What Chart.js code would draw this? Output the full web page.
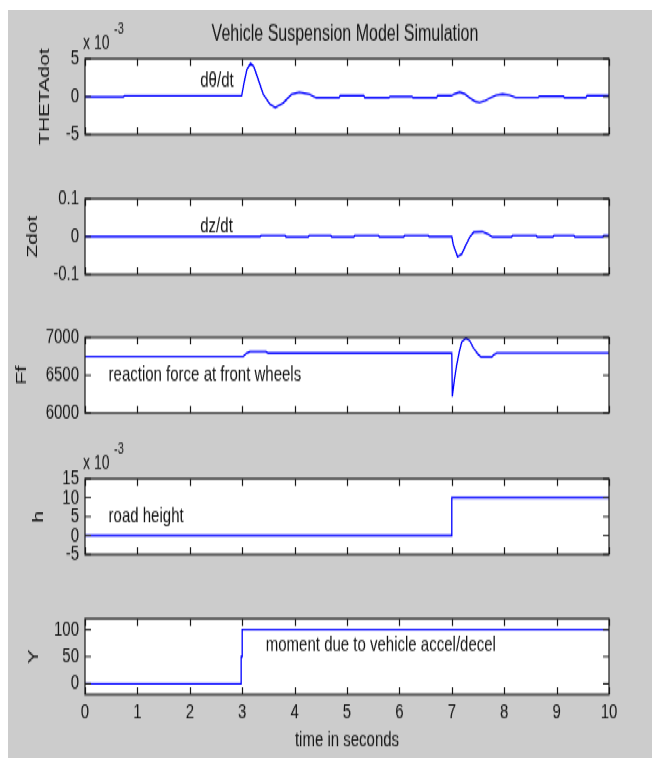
<!DOCTYPE html>
<html>
<head>
<meta charset="utf-8">
<title>Vehicle Suspension Model Simulation</title>
<script src="https://cdn.jsdelivr.net/npm/chart.js@4.4.1/dist/chart.umd.min.js"></script>
<style>
  html, body { margin: 0; padding: 0; background: #fff; overflow: hidden; }
  #fig { position: absolute; left: 8px; top: 10px; width: 644px; height: 748px; background: #cccccc; }
  /* the reference figure is stretched vertically, so draw at native size and stretch */
  #stretch { position: absolute; left: 0; top: 0; width: 652px; height: 542px; transform: scaleY(1.4); transform-origin: 0 0; }
  #stretch canvas { position: absolute; left: 0; }
</style>
</head>
<body>
<div id="fig"></div>
<div id="stretch">
  <canvas id="c1" width="652" height="110" style="top:2.36px"></canvas>
  <canvas id="c2" width="652" height="110" style="top:102.14px"></canvas>
  <canvas id="c3" width="652" height="110" style="top:201.43px"></canvas>
  <canvas id="c4" width="652" height="110" style="top:302.14px"></canvas>
  <canvas id="c5" width="652" height="139" style="top:402.14px"></canvas>
</div>
<script>
// time ticks shared by all subplots
const timeTicks = [0, 1, 2, 3, 4, 5, 6, 7, 8, 9, 10];

// THETAdot (x 10^-3)
const thetaT = [0, 0.73, 0.75, 2.99, 3.04, 3.09, 3.16, 3.22, 3.28, 3.4, 3.53, 3.63, 3.78, 3.94, 4.09, 4.29, 4.41, 4.85, 4.87, 5.32, 5.34, 5.8, 5.82, 6.24, 6.26, 6.71, 6.73, 6.99, 7.05, 7.15, 7.25, 7.35, 7.45, 7.53, 7.62, 7.75, 7.85, 7.97, 8.1, 8.22, 8.65, 8.67, 9.13, 9.15, 9.56, 9.58, 10];
const thetaV = [-0.05, -0.05, 0.1, 0.1, 2.0, 3.6, 4.4, 4.0, 2.8, 0.35, -1.0, -1.45, -0.85, 0.3, 0.57, 0.3, -0.14, -0.14, 0.14, 0.14, -0.14, -0.14, 0, 0, -0.14, -0.14, 0.14, 0.14, 0.35, 0.6, 0.35, -0.2, -0.65, -0.77, -0.6, -0.1, 0.2, 0.32, 0.2, -0.1, -0.1, 0.05, 0.05, -0.14, -0.14, 0.14, 0.14];
const thetaTicks = [-5, 0, 5];

// Zdot
const zdotT = [0, 3.34, 3.36, 3.82, 3.84, 4.26, 4.28, 4.69, 4.71, 5.13, 5.15, 5.6, 5.62, 6.08, 6.1, 6.55, 6.57, 7.0, 7.03, 7.11, 7.19, 7.27, 7.35, 7.42, 7.58, 7.7, 7.78, 8.14, 8.16, 8.61, 8.63, 8.93, 8.95, 9.33, 9.35, 9.88, 9.9, 10];
const zdotV = [0, 0, 0.003, 0.003, -0.001, -0.001, 0.0035, 0.0035, -0.001, -0.001, 0.0035, 0.0035, -0.001, -0.001, 0.003, 0.003, 0, 0, -0.022, -0.053, -0.046, -0.022, 0, 0.012, 0.013, 0.006, -0.001, -0.001, 0.0035, 0.0035, -0.001, -0.001, 0.0035, 0.0035, -0.001, -0.001, 0.003, 0.003];
const zdotTicks = [-0.1, 0, 0.1];

// Ff, reaction force at front wheels
const ffT = [0, 3.02, 3.08, 3.15, 3.45, 3.5, 7.0, 7.01, 7.05, 7.09, 7.14, 7.19, 7.27, 7.34, 7.41, 7.5, 7.56, 7.76, 7.8, 7.86, 10];
const ffV = [6748, 6748, 6790, 6813, 6813, 6792, 6792, 6220, 6440, 6623, 6800, 6940, 6990, 6960, 6864, 6780, 6741, 6741, 6770, 6793, 6793];
const ffTicks = [6000, 6500, 7000];

// h, road height (x 10^-3)
const hT = [0, 7, 7, 10];
const hV = [0, 0, 10, 10];
const hTicks = [-5, 0, 5, 10, 15];

// Y, moment due to vehicle accel/decel
const momT = [0, 2.98, 2.98, 3.0, 3.0, 10];
const momV = [0, 0, 50, 50, 100, 100];
const momTicks = [0, 50, 100];

const FONT = '"Liberation Sans", Arial, Helvetica, sans-serif';
const INK = '#151515';

function zip(t, v) {
  return t.map((x, i) => ({ x: x, y: v[i] }));
}

// MATLAB style axes: white box, inward ticks on all sides, extra texts
const matlabAxes = {
  id: 'matlabAxes',
  beforeDraw(chart) {
    const { ctx, chartArea: a } = chart;
    ctx.save();
    ctx.fillStyle = '#ffffff';
    ctx.fillRect(a.left, a.top, a.right - a.left, a.bottom - a.top);
    ctx.restore();
  },
  afterDatasetsDraw(chart, args, opts) {
    const { ctx, chartArea: a } = chart;
    const x = chart.scales.x, y = chart.scales.y;
    ctx.save();
    ctx.strokeStyle = '#1a1a1a';
    ctx.lineWidth = 1.2;
    ctx.beginPath();
    x.ticks.forEach(t => {
      const px = Math.round(x.getPixelForValue(t.value)) + 0.5;
      ctx.moveTo(px, a.top); ctx.lineTo(px, a.top + 5);
      ctx.moveTo(px, a.bottom); ctx.lineTo(px, a.bottom - 5);
    });
    y.ticks.forEach(t => {
      const py = y.getPixelForValue(t.value);
      ctx.moveTo(a.left, py); ctx.lineTo(a.left + 6, py);
      ctx.moveTo(a.right, py); ctx.lineTo(a.right - 6, py);
    });
    ctx.stroke();
    ctx.strokeRect(a.left, a.top, a.right - a.left, a.bottom - a.top);

    ctx.fillStyle = INK;
    ctx.textBaseline = 'middle';
    ctx.textAlign = 'left';
    ctx.font = '15px ' + FONT;
    (opts.notes || []).forEach(n => {
      ctx.fillText(n.text, x.getPixelForValue(n.x), y.getPixelForValue(n.y));
    });
    if (opts.exponent) {
      ctx.font = '14px ' + FONT;
      ctx.fillText('x 10', a.left - 2, a.top - 11);
      ctx.font = '11px ' + FONT;
      ctx.fillText('-3', a.left + 29, a.top - 21);
    }
    if (opts.title) {
      ctx.textAlign = 'center';
      ctx.font = '16px ' + FONT;
      ctx.fillText(opts.title, (a.left + a.right) / 2 - 2, a.top - 17);
    }
    ctx.restore();
  }
};

function makeChart(id, t, v, yMin, yMax, yTicks, yLabel, labelPad, extra, last) {
  const ctx = document.getElementById(id).getContext('2d');
  return new Chart(ctx, {
    type: 'line',
    data: {
      datasets: [{
        data: zip(t, v),
        borderColor: '#0000ff',
        borderWidth: 1.3,
        pointRadius: 0,
        tension: 0,
        fill: false
      }]
    },
    options: {
      responsive: false,
      animation: false,
      events: [],
      layout: { padding: { left: 8, right: 43, top: 40, bottom: last ? 0 : 16 } },
      plugins: {
        legend: { display: false },
        tooltip: { enabled: false },
        matlabAxes: extra
      },
      scales: {
        x: {
          type: 'linear',
          min: 0,
          max: 10,
          afterBuildTicks: s => { s.ticks = timeTicks.map(tv => ({ value: tv })); },
          afterFit: s => { s.height = last ? 45 : 0; },
          grid: { display: false, drawTicks: false, tickLength: 0 },
          border: { display: false },
          ticks: {
            display: !!last,
            autoSkip: false,
            maxRotation: 0,
            padding: 4,
            color: INK,
            font: { family: FONT, size: 15 },
            callback: tv => String(tv)
          },
          title: {
            display: !!last,
            text: 'time in seconds',
            color: INK,
            font: { family: FONT, size: 15 },
            padding: { top: 0, bottom: 3 }
          }
        },
        y: {
          type: 'linear',
          min: yMin,
          max: yMax,
          afterBuildTicks: s => { s.ticks = yTicks.map(tv => ({ value: tv })); },
          afterFit: s => { s.width = 77; },
          grid: { display: false, drawTicks: false, tickLength: 0 },
          border: { display: false },
          ticks: {
            autoSkip: false,
            padding: 6,
            color: INK,
            font: { family: FONT, size: 15 },
            callback: tv => String(tv)
          },
          title: {
            display: true,
            text: yLabel,
            color: INK,
            font: { family: FONT, size: 15 },
            padding: { top: labelPad, bottom: 0 }
          }
        }
      }
    },
    plugins: [matlabAxes]
  });
}

makeChart('c1', thetaT, thetaV, -5, 5, thetaTicks, 'THETAdot', 28, {
  title: 'Vehicle Suspension Model Simulation',
  exponent: true,
  notes: [{ x: 2.2, y: 2, text: 'dθ/dt' }]
});
makeChart('c2', zdotT, zdotV, -0.1, 0.1, zdotTicks, 'Zdot', 16, {
  notes: [{ x: 2.2, y: 0.026, text: 'dz/dt' }]
});
makeChart('c3', ffT, ffV, 6000, 7000, ffTicks, 'Ff', 5, {
  notes: [{ x: 0.45, y: 6500, text: 'reaction force at front wheels' }]
});
makeChart('c4', hT, hV, -5, 15, hTicks, 'h', 22, {
  exponent: true,
  notes: [{ x: 0.45, y: 5, text: 'road height' }]
});
makeChart('c5', momT, momV, -20, 120, momTicks, 'Y', 17, {
  notes: [{ x: 3.45, y: 70, text: 'moment due to vehicle accel/decel' }]
}, true);
</script>
</body>
</html>
